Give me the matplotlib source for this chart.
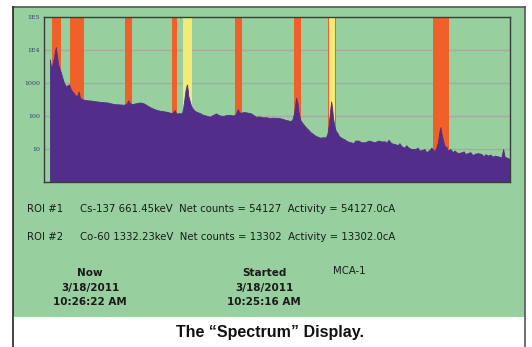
import matplotlib
matplotlib.use("Agg")
import matplotlib.pyplot as plt
from matplotlib.patches import Rectangle
from matplotlib.lines import Line2D

# ---------------- data ----------------
channels = [13, 16, 22, 24, 26, 29, 31, 33, 37, 40, 44, 48, 52, 55, 59, 62, 66, 72, 74, 76,
            78, 79, 83, 88, 95, 106, 117, 128, 139, 154, 165, 176, 182, 185, 188, 193, 200,
            211, 218, 222, 229, 237, 246, 255, 262, 270, 275, 281, 284, 287, 289, 292, 297,
            303, 306, 308, 311, 314, 316, 317, 323, 327, 332, 339, 343, 349, 356, 364, 370,
            378, 385, 393, 400, 408, 414, 420, 424, 426, 429, 433, 438, 444, 450, 455, 461,
            466, 473, 481, 488, 496, 502, 510, 516, 524, 531, 537, 542, 546, 549, 552, 554,
            557, 559, 561, 564, 570, 575, 581, 586, 592, 597, 603, 608, 614, 619, 623, 625,
            628, 631, 633, 635, 638, 641, 645, 648, 653, 659, 667, 674, 680, 684, 691, 697,
            706, 713, 720, 726, 735, 741, 750, 752, 757, 763, 772, 777, 781, 786, 792, 796,
            801, 807, 816, 821, 825, 830, 836, 840, 847, 851, 854, 858, 862, 865, 867, 869,
            871, 873, 876, 879, 882, 884, 887, 893, 898, 902, 909, 917, 922, 926, 931, 937,
            942, 946, 953, 961, 966, 970, 975, 981, 986, 990, 997, 1005, 1009, 1012, 1016, 1023]
counts = [5200, 2600, 6000, 9000, 12300, 6000, 3700, 3000, 2100, 1500, 1000, 810, 850, 910,
          650, 560, 480, 380, 450, 550, 420, 360, 325, 310, 300, 290, 275, 265, 257, 229, 225,
          219, 240, 300, 250, 229, 240, 257, 245, 229, 200, 174, 155, 144, 140, 134, 128, 122,
          135, 151, 130, 119, 122, 119, 180, 290, 600, 910, 600, 410, 204, 165, 140, 128, 122,
          109, 103, 95, 105, 120, 105, 100, 106, 109, 104, 107, 140, 163, 130, 125, 132, 129,
          124, 120, 105, 95, 97, 91, 92, 87, 89, 88, 87, 82, 76, 73, 70, 80, 115, 220, 360,
          250, 144, 100, 72, 56, 46, 38, 32, 28, 25, 23, 22, 23, 22, 30, 46, 120, 275, 180,
          91, 50, 36, 30, 25, 22, 20, 17, 16, 15, 18, 18, 16, 16, 18, 17, 16, 18, 17, 17, 15,
          19, 15, 14, 13, 15, 12, 11, 13, 11, 10, 10, 11, 9, 9.3, 10, 8, 9.3, 11, 10, 8.5, 11,
          15, 22, 35, 46, 32, 20, 14, 11, 12, 9, 10, 8, 9, 7.5, 7.9, 8.5, 7, 7.5, 8, 6.5, 7.1,
          7.5, 7.1, 6, 7, 6.3, 6.8, 5.8, 6.3, 6, 5.6, 10, 6, 5.5, 5]

roi_orange = [(18, 37), (57, 88), (178, 194), (282, 293), (420, 436), (550, 565), (623, 642), (854, 889)]
roi_yellow = [(306, 326), (627, 639)]

ytick_vals = [10, 100, 1000, 1e4, 1e5]
ytick_labels = ["10", "100", "1000", "1E4", "1E5"]

roi_lines = [("ROI #1", "Cs-137 661.45keV  Net counts = 54127  Activity = 54127.0cA"),
             ("ROI #2", "Co-60 1332.23keV  Net counts = 13302  Activity = 13302.0cA")]
now_block = ["Now", "3/18/2011", "10:26:22 AM"]
started_block = ["Started", "3/18/2011", "10:25:16 AM"]
device = "MCA-1"
caption = "The \u201cSpectrum\u201d Display."

# ---------------- styling ----------------
W, H = 532, 347
GREEN = "#97cf9f"
PURPLE = "#522d8a"
ORANGE = "#ef6128"
YELLOW = "#f2ec76"
GRID = "#a7aaa0"
TXT = "#1a1a1a"

fig = plt.figure(figsize=(W / 100, H / 100), dpi=100)
fig.patch.set_facecolor("white")

def fx(px):
    return px / W

def fy(py):
    return 1 - py / H

# green panel (behind the axes)
fig.patches.append(Rectangle((fx(13), fy(317)), fx(525) - fx(13), fy(7) - fy(317),
                             transform=fig.transFigure, facecolor=GREEN, edgecolor="none", zorder=-10))
# outer frame lines
fig.lines.append(Line2D([fx(13), fx(525)], [fy(7), fy(7)], transform=fig.transFigure, color="#555555", lw=1.2, zorder=-5))
fig.lines.append(Line2D([fx(13), fx(13)], [fy(7), 0], transform=fig.transFigure, color="#222222", lw=1.2, zorder=-5))
fig.lines.append(Line2D([fx(525), fx(525)], [fy(7), 0], transform=fig.transFigure, color="#555555", lw=1.2, zorder=-5))

ax = fig.add_axes([fx(44), fy(182), fx(510) - fx(44), fy(17) - fy(182)])
ax.set_facecolor(GREEN)
ax.set_yscale("log")
ax.set_xlim(0, 1024)
ax.set_ylim(1, 1e5)

for a, b in roi_orange:
    ax.axvspan(a, b, color=ORANGE, lw=0, zorder=2)
for a, b in roi_yellow:
    ax.axvspan(a, b, color=YELLOW, lw=0, zorder=2.5)

ax.fill_between(channels, counts, 1, color=PURPLE, lw=0.6, edgecolor=PURPLE, zorder=3)

ax.set_yticks(ytick_vals)
ax.set_yticklabels(ytick_labels, fontsize=4.5, color="#3a3a70", family="DejaVu Serif")
ax.yaxis.set_minor_locator(matplotlib.ticker.NullLocator())
ax.tick_params(axis="y", length=0, pad=3)
ax.set_xticks([])
ax.grid(axis="y", color=GRID, lw=1.0, zorder=1)
ax.set_axisbelow(True)
for s in ax.spines.values():
    s.set_color("#3c3c3c")
    s.set_linewidth(1.0)
    s.set_zorder(5)

# ROI text
FONT = "DejaVu Sans"
for i, (lab, txt) in enumerate(roi_lines):
    y = 209 + i * 28
    fig.text(fx(27), fy(y), lab, fontsize=7.3, color=TXT, va="center", ha="left", family=FONT)
    fig.text(fx(80), fy(y), txt, fontsize=7.3, color=TXT, va="center", ha="left", family=FONT)

for j, t in enumerate(now_block):
    fig.text(fx(90), fy(273 + j * 14.5), t, fontsize=7.5, weight="bold", color=TXT,
             ha="center", va="center", family=FONT)
for j, t in enumerate(started_block):
    fig.text(fx(264), fy(273 + j * 14.5), t, fontsize=7.5, weight="bold", color=TXT,
             ha="center", va="center", family=FONT)
fig.text(fx(333), fy(271), device, fontsize=7.3, color=TXT, ha="left", va="center", family=FONT)

fig.text(fx(270), fy(333), caption, fontsize=11.5, weight="bold", color="#111111",
         ha="center", va="center", family="Liberation Sans")

fig.savefig("out.png", dpi=100, facecolor="white")
